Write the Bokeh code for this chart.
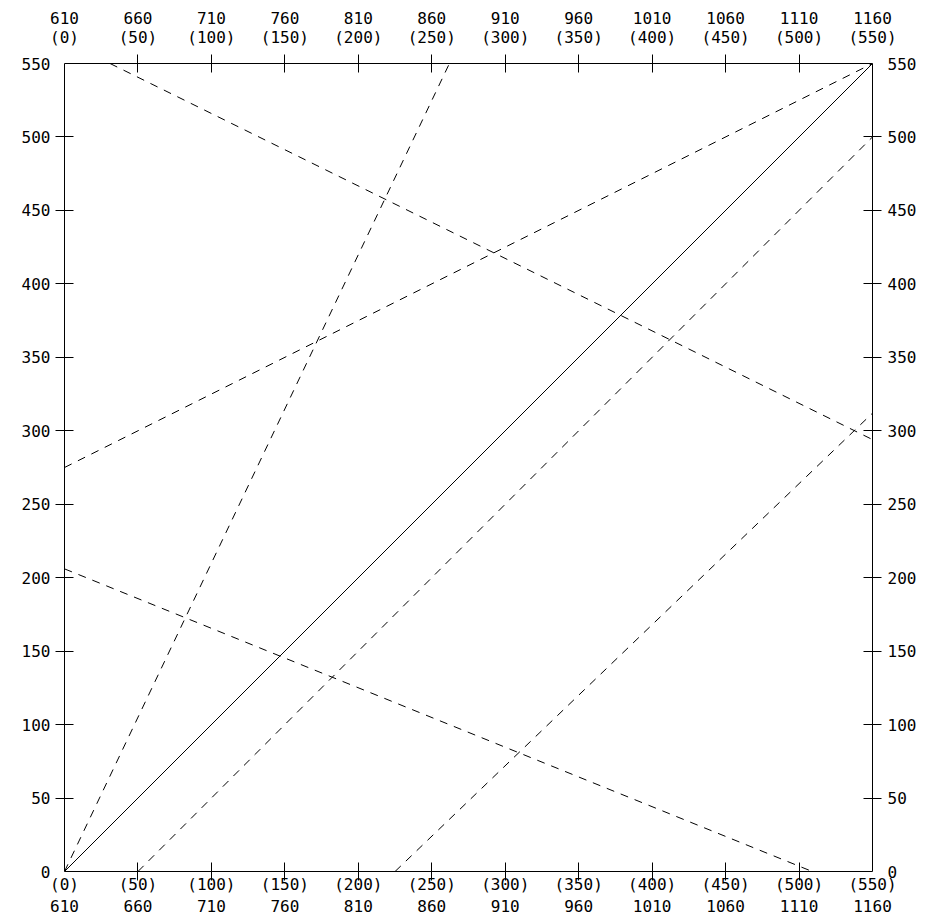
from bokeh.plotting import figure
from bokeh.models import Range1d, LinearAxis, FixedTicker
from bokeh.embed import file_html
from bokeh.resources import INLINE

# ---- data ----
tick_values = [0, 50, 100, 150, 200, 250, 300, 350, 400, 450, 500, 550]
inner_ticks = [50, 100, 150, 200, 250, 300, 350, 400, 450, 500]
side_labels = ["0", "50", "100", "150", "200", "250", "300", "350", "400", "450", "500", "550"]
shifted_labels = ["610", "660", "710", "760", "810", "860", "910", "960", "1010", "1060", "1110", "1160"]
paren_labels = ["(0)", "(50)", "(100)", "(150)", "(200)", "(250)", "(300)", "(350)", "(400)", "(450)", "(500)", "(550)"]

solid_x = [0, 550]
solid_y = [0, 550]

dash_x0 = [0, 0, 31, 0, 50, 225]
dash_y0 = [0, 275, 550, 206, 0, 0]
dash_x1 = [262, 550, 550, 509, 550, 550]
dash_y1 = [550, 550, 294, 0, 500, 312]

FONT = "DejaVu Sans Mono"
FSIZE = "16px"

p = figure(width=932, height=919,
           x_range=Range1d(0, 550), y_range=Range1d(0, 550),
           output_backend="svg", toolbar_location=None,
           x_axis_location=None, y_axis_location=None,
           min_border_left=64, min_border_right=60,
           min_border_top=63, min_border_bottom=48)
p.xgrid.visible = False
p.ygrid.visible = False
p.outline_line_color = None
p.background_fill_color = "white"
p.border_fill_color = "white"


def tick_axis():
    return LinearAxis(ticker=FixedTicker(ticks=inner_ticks),
                      major_tick_in=9, major_tick_out=9,
                      minor_tick_in=0, minor_tick_out=0,
                      axis_line_color="black", axis_line_width=1,
                      major_tick_line_color="black", major_tick_line_width=1,
                      major_label_text_font_size="0px",
                      major_label_text_color=None,
                      major_label_standoff=0)


def label_axis(labels, standoff, line_height=1.0):
    ax = LinearAxis(ticker=FixedTicker(ticks=tick_values),
                    major_label_overrides={v: t for v, t in zip(tick_values, labels)},
                    major_tick_in=0, major_tick_out=0,
                    minor_tick_in=0, minor_tick_out=0,
                    axis_line_color=None, major_tick_line_color=None,
                    major_label_standoff=standoff,
                    major_label_text_font=FONT,
                    major_label_text_font_size=FSIZE,
                    major_label_text_line_height=line_height,
                    major_label_text_color="black")
    return ax


top_labels = [a + "\n" + b for a, b in zip(shifted_labels, paren_labels)]
bottom_labels = [b + "\n" + a for a, b in zip(shifted_labels, paren_labels)]

p.add_layout(tick_axis(), "left")
p.add_layout(label_axis(side_labels, 5), "left")
p.add_layout(tick_axis(), "right")
p.add_layout(label_axis(side_labels, 6), "right")
p.add_layout(tick_axis(), "above")
p.add_layout(label_axis(top_labels, 8), "above")
p.add_layout(tick_axis(), "below")
p.add_layout(label_axis(bottom_labels, -6, 1.2), "below")

p.line(solid_x, solid_y, line_color="black", line_width=1)
p.segment(x0=dash_x0, y0=dash_y0, x1=dash_x1, y1=dash_y1,
          line_color="black", line_width=1, line_dash="8 7")

open("out.html", "w").write(file_html(p, INLINE))
